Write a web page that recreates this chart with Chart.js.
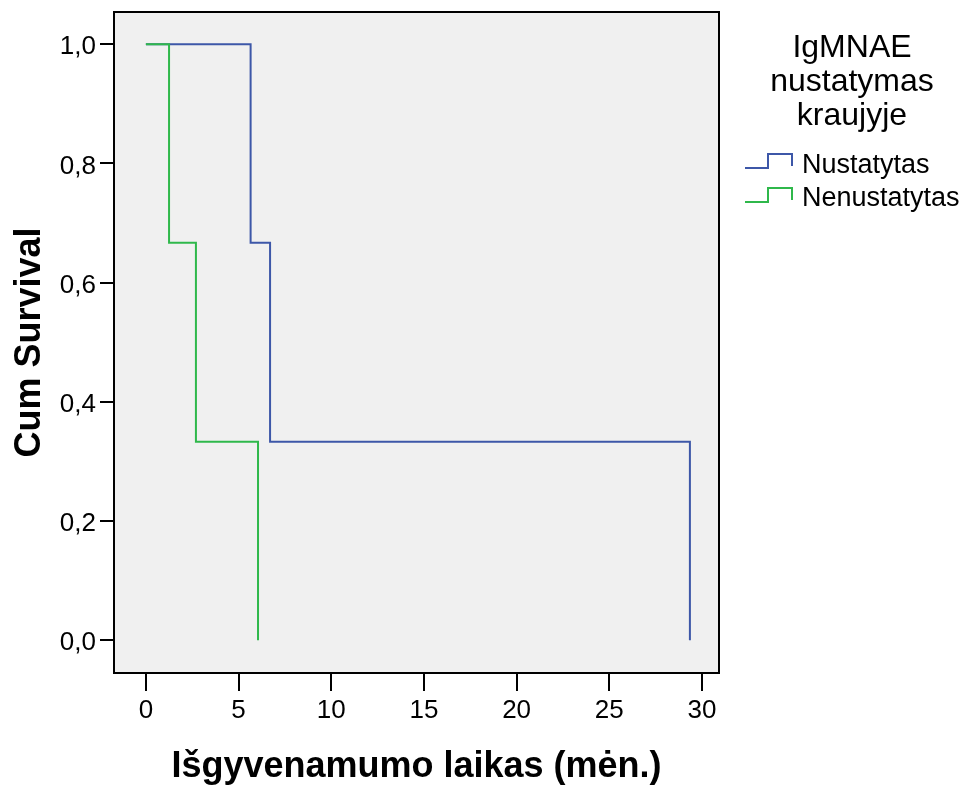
<!DOCTYPE html>
<html>
<head>
<meta charset="utf-8">
<script src="https://cdn.jsdelivr.net/npm/chart.js@4.4.1/dist/chart.umd.min.js"></script>
<style>
  html, body { margin: 0; padding: 0; background: #fff; }
  #wrap { width: 961px; height: 789px; }
</style>
</head>
<body>
<div id="wrap"><canvas id="kmChart" width="961" height="789"></canvas></div>
<script>
// Kaplan-Meier steps: time (months) and cumulative survival
var detectedTimes = [0, 5.65, 6.7, 29.35];
var detectedSurvival = [1, 0.667, 0.333, 0];
var notDetectedTimes = [0, 1.25, 2.7, 6.05];
var notDetectedSurvival = [1, 0.667, 0.333, 0];

var seriesLabels = ['Nustatytas', 'Nenustatytas'];
var legendTitle = ['IgMNAE', 'nustatymas', 'kraujyje'];
var xTicks = [0, 5, 10, 15, 20, 25, 30];
var yTicks = [0, 0.2, 0.4, 0.6, 0.8, 1.0];

var FONT = '"Liberation Sans", Arial, sans-serif';
var BLUE = '#3d57a8';
var GREEN = '#2fb84b';

function toPoints(xs, ys) {
    return xs.map(function(x, i) { return {x: x, y: ys[i]}; });
}

// grey plot background + black frame
var plotFrame = {
    id: 'plotFrame',
    beforeDatasetsDraw: function(chart) {
        var a = chart.chartArea, ctx = chart.ctx;
        ctx.save();
        ctx.fillStyle = '#f0f0f0';
        ctx.fillRect(a.left, a.top, a.right - a.left, a.bottom - a.top);
        ctx.restore();
    },
    afterDatasetsDraw: function(chart) {
        var a = chart.chartArea, ctx = chart.ctx;
        ctx.save();
        ctx.strokeStyle = '#000';
        ctx.lineWidth = 2;
        ctx.strokeRect(a.left, a.top, a.right - a.left, a.bottom - a.top);
        ctx.restore();
    }
};

// SPSS style legend with step symbols
var stepLegend = {
    id: 'stepLegend',
    afterDraw: function(chart) {
        var ctx = chart.ctx;
        ctx.save();
        ctx.fillStyle = '#000';
        ctx.textAlign = 'center';
        ctx.textBaseline = 'middle';
        ctx.font = '32px ' + FONT;
        legendTitle.forEach(function(line, i) {
            ctx.fillText(line, 852, 48 + i * 34);
        });
        ctx.font = '27px ' + FONT;
        ctx.textAlign = 'left';
        chart.data.datasets.forEach(function(ds, i) {
            var yb = 168 + i * 34, yt = yb - 14;
            ctx.strokeStyle = ds.borderColor;
            ctx.lineWidth = 2;
            ctx.beginPath();
            ctx.moveTo(745, yb);
            ctx.lineTo(768, yb);
            ctx.lineTo(768, yt);
            ctx.lineTo(792, yt);
            ctx.lineTo(792, yb - 2);
            ctx.stroke();
            ctx.fillText(ds.label, 802, 166 + i * 33);
        });
        ctx.restore();
    }
};

var ctx = document.getElementById('kmChart');
var kmChart = new Chart(ctx, {
    type: 'line',
    data: {
        datasets: [{
            label: seriesLabels[0],
            data: toPoints(detectedTimes, detectedSurvival),
            borderColor: BLUE,
            order: 2
        }, {
            label: seriesLabels[1],
            data: toPoints(notDetectedTimes, notDetectedSurvival),
            borderColor: GREEN,
            order: 1
        }]
    },
    options: {
        responsive: false,
        animation: false,
        layout: { padding: { top: 12, right: 242, left: 0, bottom: 0 } },
        elements: {
            point: { radius: 0 },
            line: { stepped: 'before', borderWidth: 2, fill: false, tension: 0 }
        },
        plugins: {
            legend: { display: false },
            tooltip: { enabled: false }
        },
        scales: {
            x: {
                type: 'linear',
                min: -1.72,
                max: 30.92,
                afterBuildTicks: function(s) {
                    s.ticks = xTicks.map(function(v) { return {value: v}; });
                },
                afterFit: function(s) {
                    s.height = 116;
                    s.paddingLeft = 0;
                    s.paddingRight = 0;
                },
                grid: { drawOnChartArea: false, drawTicks: true, tickLength: 18, color: '#000', lineWidth: 2 },
                border: { display: false },
                ticks: {
                    color: '#000',
                    font: { family: FONT, size: 26 },
                    padding: 4,
                    maxRotation: 0,
                    autoSkip: false,
                    callback: function(v) { return String(v); }
                },
                title: {
                    display: true,
                    text: 'Išgyvenamumo laikas (mėn.)',
                    color: '#000',
                    font: { family: FONT, size: 36, weight: 'bold', lineHeight: 1 },
                    padding: { top: 0, bottom: 4 }
                }
            },
            y: {
                type: 'linear',
                min: -0.055,
                max: 1.054,
                afterBuildTicks: function(s) {
                    s.ticks = yTicks.map(function(v) { return {value: v}; });
                },
                afterFit: function(s) {
                    s.width = 114;
                    s.paddingTop = 0;
                    s.paddingBottom = 0;
                },
                grid: { drawOnChartArea: false, drawTicks: true, tickLength: 14, color: '#000', lineWidth: 2 },
                border: { display: false },
                ticks: {
                    color: '#000',
                    font: { family: FONT, size: 26 },
                    padding: 4,
                    labelOffset: 3,
                    autoSkip: false,
                    callback: function(v) { return v.toFixed(1).replace('.', ','); }
                },
                title: {
                    display: true,
                    text: 'Cum Survival',
                    color: '#000',
                    font: { family: FONT, size: 36, weight: 'bold', lineHeight: 1 },
                    padding: { top: 12, bottom: 0 }
                }
            }
        }
    },
    plugins: [plotFrame, stepLegend]
});
</script>
</body>
</html>
